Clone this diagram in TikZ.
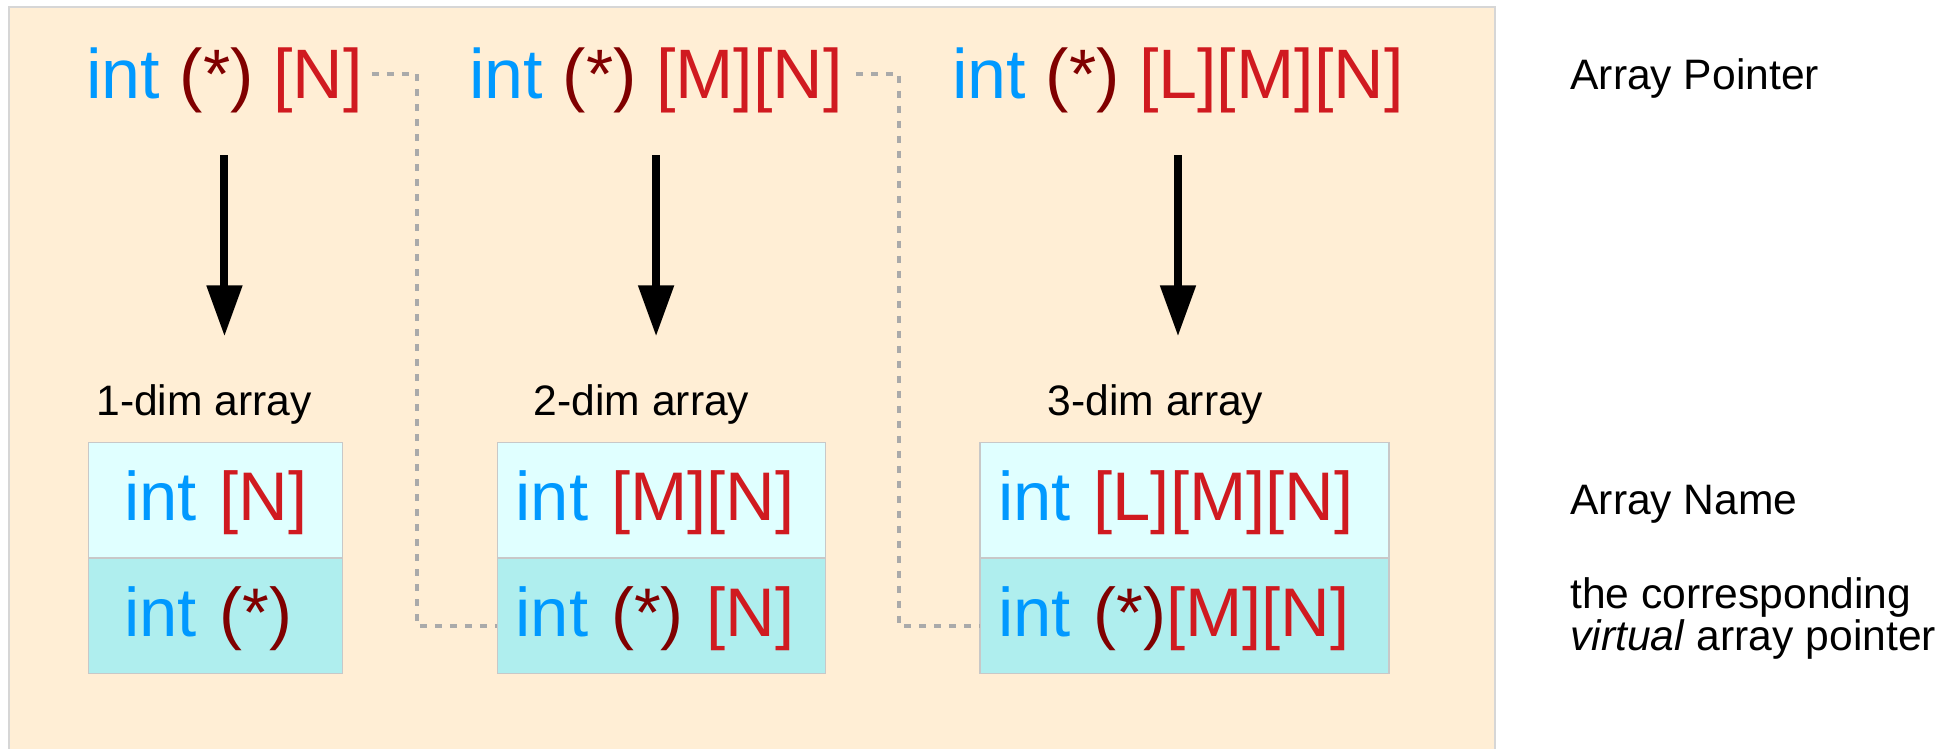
\documentclass[tikz,border=0pt]{standalone}
\usepackage{fontspec}
\setmainfont{Liberation Sans}
\usetikzlibrary{
  arrows.meta,
  positioning
}

\definecolor{panelbg}{HTML}{FFEED5}
\definecolor{panelline}{HTML}{D6D6D6}
\definecolor{typeblue}{HTML}{0099FF}
\definecolor{dimred}{HTML}{D01A20}
\definecolor{starred}{HTML}{800000}
\definecolor{namecell}{HTML}{E0FFFF}
\definecolor{ptrcell}{HTML}{AFEEEE}
\definecolor{cellline}{HTML}{C8C8C8}
\definecolor{linkgray}{HTML}{AAAAAA}

% pieces of a declaration
\newcommand{\ctype}{\textcolor{typeblue}{int}}
\newcommand{\cptr}{\textcolor{starred}{(*)}}
\newcommand{\cdim}[1]{\textcolor{dimred}{#1}}

\begin{document}
\begin{tikzpicture}[
  x=0.5pt, y=-0.5pt,
  decl/.style = {inner sep=0pt, anchor=base west,
    text height=25pt, text depth=0pt,
    font=\fontsize{35}{40}\selectfont},
  cell/.style = {draw=cellline, line width=0.6pt, inner sep=0pt,
    minimum height=57.5pt, align=left,
    text height=24.7pt, text depth=4.5pt,
    font=\fontsize{34.4}{40}\selectfont},
  caption/.style = {inner sep=0pt, anchor=base west, align=left,
    font=\fontsize{21.3}{19.5}\selectfont},
  deref/.style = {line width=4pt, -{Triangle[length=25.5pt,width=17pt]},
    shorten <=28pt, shorten >=24pt},
  link/.style = {draw=linkgray, line width=2pt, dash pattern=on 3.5pt off 4pt}]

  \useasboundingbox (0,0) rectangle (1955,749);
  \fill[panelbg] (8.5,7.5) rectangle (1495,749);
  \draw[panelline, line width=1pt] (8.5,749) |- (1495,7.5) -- (1495,749);

  % array pointer declarations
  \node[decl] (arrptr1) at (86,99) {\ctype\ \cptr\ \cdim{[N]}};
  \node[decl] (arrptr2) at (469,99) {\ctype\ \cptr\ \cdim{[M][N]}};
  \node[decl] (arrptr3) at (952,99) {\ctype\ \cptr\ \cdim{[L][M][N]}};

  \node[caption] (dim1) at (96,415.7) {1-dim array};
  \node[caption] (dim2) at (533.5,415.7) {2-dim array};
  \node[caption] (dim3) at (1047.5,415.7) {3-dim array};

  % array name / virtual pointer pairs
  \node[cell, fill=namecell, text width=127pt, anchor=north west] (name1) at (87.7,441.7)
    {\hspace*{17.9pt}\ctype\ \cdim{[N]}};
  \node[cell, fill=ptrcell, text width=127pt, below=0pt of name1] (vptr1)
    {\hspace*{17.9pt}\ctype\ \cptr};

  \node[cell, fill=namecell, text width=164pt, anchor=north west] (name2) at (496.6,441.7)
    {\hspace*{9.2pt}\ctype\ \cdim{[M][N]}};
  \node[cell, fill=ptrcell, text width=164pt, below=0pt of name2] (vptr2)
    {\hspace*{9.2pt}\ctype\ \cptr\ \cdim{[N]}};

  \node[cell, fill=namecell, text width=204.5pt, anchor=north west] (name3) at (979.4,441.7)
    {\hspace*{9pt}\ctype\ \cdim{[L][M][N]}};
  \node[cell, fill=ptrcell, text width=204.5pt, below=0pt of name3] (vptr3)
    {\hspace*{9pt}\ctype\ \cptr\cdim{[M][N]}};

  \draw[deref] (arrptr1.south) -- (arrptr1.south |- dim1.north);
  \draw[deref] (arrptr2.south) -- (arrptr2.south |- dim2.north);
  \draw[deref] (arrptr3.south) -- (arrptr3.south |- dim3.north);

  \draw[link] ([xshift=4.5pt]arrptr1.east) -| ([xshift=-40pt,yshift=-5pt]vptr2.west)
    -- ([yshift=-5pt]vptr2.west);
  \draw[link] ([xshift=6.5pt]arrptr2.east) -| ([xshift=-40pt,yshift=-5pt]vptr3.west)
    -- ([yshift=-5pt]vptr3.west);

  % legend on the right
  \node[caption] (lgptr) at (1570,90) {Array Pointer};
  \node[caption] (lgname) at (1570,514) {Array Name};
  \node[caption] (lgvirt) at (1570,650.7) {the corresponding\\\textit{virtual} array pointer};
\end{tikzpicture}
\end{document}
